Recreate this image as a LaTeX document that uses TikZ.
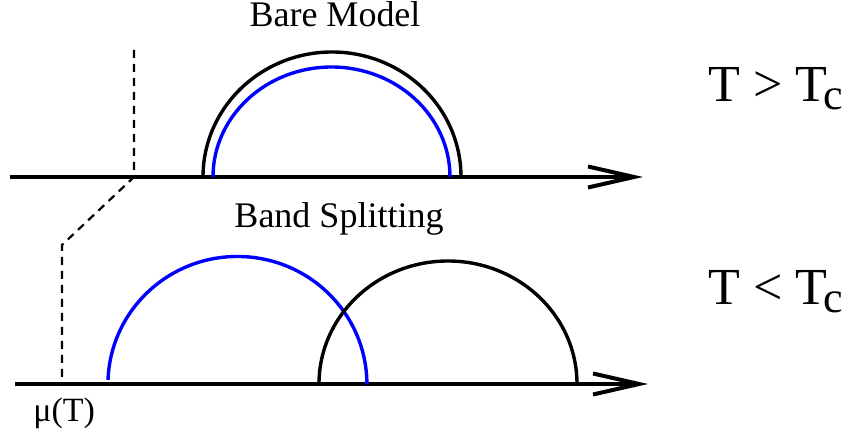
\documentclass[tikz,border=0pt]{standalone}
\usepackage{fontspec}
\setmainfont{Liberation Serif}
\usepackage{xcolor}
\usetikzlibrary{arrows.meta,positioning}
\newcommand{\Tcrit}{T\kern-2pt\raisebox{-4pt}{\fontsize{22}{22}\selectfont c}}
\tikzset{
  axis/.style={line width=2pt,-{Straight Barb[length=23pt,width=10.5pt,line width=2pt]}},
  band/.style={line width=1.7pt,draw=black},
  bandb/.style={band,draw=blue},
  chem/.style={line width=1.1pt,dash pattern=on 4pt off 3pt},
  title/.style={font=\fontsize{18}{20}\selectfont,inner sep=0pt,anchor=base},
  temp/.style={font=\fontsize{26}{28}\selectfont,inner sep=0pt,anchor=base west},
}
\begin{document}
\begin{tikzpicture}[x=0.5pt,y=0.5pt]
\useasboundingbox (0,0) rectangle (842,434);
\coordinate (up0) at (10,257);
\coordinate (up1) at (643,257);
\coordinate (lo0) at (15,50);
\coordinate (lo1) at (648,50);
\draw[axis] (up0) -- (up1);
\draw[axis] (lo0) -- (lo1);
\draw[band] (203,257) arc[start angle=180,end angle=0,x radius=129,y radius=125];
\draw[bandb] (213,257) arc[start angle=180,end angle=0,x radius=118.5,y radius=110];
\draw[bandb] (108,54) arc[start angle=178,end angle=0,x radius=129.5,y radius=128];
\draw[band] (319,50) arc[start angle=180,end angle=0,x radius=129,y radius=123];
\draw[chem] (134,384) -- (134,257) -- (62,189) -- (62,50);
\node[title] (bare) at (335,407) {Bare Model};
\node[title] (split) at (339,206) {Band Splitting};
\node[temp] (hot) at (708,332) {T > \Tcrit};
\node[temp] (cold) at (708,129) {T < \Tcrit};
\node[title,anchor=base west,font=\fontsize{17}{19}\selectfont] (mu) at (33,12) {μ(T)};
\end{tikzpicture}
\end{document}
